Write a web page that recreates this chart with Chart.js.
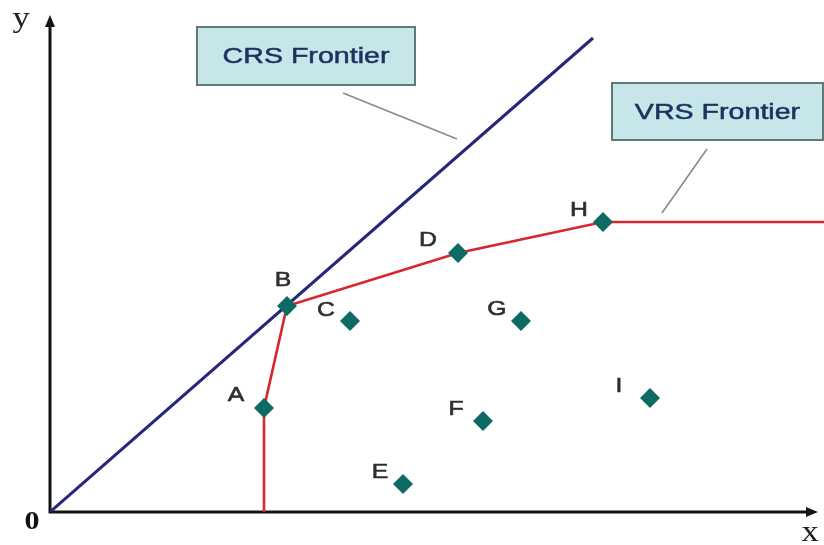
<!DOCTYPE html>
<html>
<head>
<meta charset="utf-8">
<script src="https://cdn.jsdelivr.net/npm/chart.js@4.4.1/dist/chart.umd.min.js"></script>
<style>
html,body{margin:0;padding:0;background:#fff;}
#wrap{width:824px;height:545px;}
</style>
</head>
<body>
<div id="wrap"><canvas id="c" width="824" height="545"></canvas></div>
<script>
// ---- data (units; origin at O) ----
const unitLabels = ['A','B','C','D','E','F','G','H','I'];
const unitX = [214, 237, 300, 408, 353, 433, 471, 553, 600];
const unitY = [104, 206, 191, 259, 28, 91, 191, 290, 114];
const crsX = [0, 543];
const crsY = [0, 474];
const vrsX = [214, 214, 237, 408, 553, 774];
const vrsY = [0, 104, 206, 259, 290, 290];
const xAxisMax = 774;
const yAxisMax = 512;

const pts = (xs, ys) => xs.map((x, i) => ({x, y: ys[i]}));

// label offsets (pixels) relative to each diamond
const labelOffsets = {A:[-28,-13],B:[-4,-26],C:[-24,-11],D:[-30,-13],E:[-23,-12],F:[-27,-12],G:[-24,-12],H:[-24,-12],I:[-31,-12]};

function stretchedText(ctx, txt, x, y, sx, font, color, align, thick){
  ctx.save();
  ctx.font = font;
  ctx.fillStyle = color;
  ctx.strokeStyle = color;
  ctx.textAlign = align || 'center';
  ctx.textBaseline = 'middle';
  ctx.translate(x, y);
  ctx.scale(sx, 1);
  ctx.fillText(txt, 0, 0);
  if (thick) { ctx.lineWidth = thick; ctx.strokeText(txt, 0, 0); }
  ctx.restore();
}

const axesPlugin = {
  id: 'axesPlugin',
  beforeDatasetsDraw(chart){
    const {ctx, scales:{x, y}} = chart;
    const ox = x.getPixelForValue(0), oy = y.getPixelForValue(0);
    const yTop = y.getPixelForValue(497);
    const xEnd = x.getPixelForValue(768);
    ctx.save();
    ctx.strokeStyle = '#141414';
    ctx.fillStyle = '#141414';
    ctx.lineWidth = 3;
    ctx.beginPath();
    ctx.moveTo(ox, oy + 1.5); ctx.lineTo(ox, yTop + 8);
    ctx.moveTo(ox - 1.5, oy); ctx.lineTo(xEnd - 8, oy);
    ctx.stroke();
    ctx.beginPath();
    ctx.moveTo(ox, yTop); ctx.lineTo(ox - 5, yTop + 12); ctx.lineTo(ox + 5, yTop + 12); ctx.closePath();
    ctx.fill();
    ctx.beginPath();
    ctx.moveTo(xEnd, oy); ctx.lineTo(xEnd - 12, oy - 5); ctx.lineTo(xEnd - 12, oy + 5); ctx.closePath();
    ctx.fill();
    ctx.restore();

    // axis letters
    stretchedText(ctx, 'y', ox - 29, yTop + 4, 1.15, '30px "Liberation Serif", serif', '#222');
    stretchedText(ctx, 'x', xEnd - 8, oy + 21, 1.15, '30px "Liberation Serif", serif', '#222');
    stretchedText(ctx, '0', ox - 18, oy + 11, 1.2, 'bold 25px "Liberation Serif", serif', '#111');

    // annotation pointer lines
    ctx.save();
    ctx.strokeStyle = '#8a8a8a';
    ctx.lineWidth = 1.6;
    ctx.beginPath();
    ctx.moveTo(x.getPixelForValue(293), y.getPixelForValue(419));
    ctx.lineTo(x.getPixelForValue(407), y.getPixelForValue(373));
    ctx.moveTo(x.getPixelForValue(657), y.getPixelForValue(363));
    ctx.lineTo(x.getPixelForValue(612), y.getPixelForValue(299));
    ctx.stroke();
    ctx.restore();
  },
  afterDatasetsDraw(chart){
    const {ctx, scales:{x, y}} = chart;
    // point labels
    const meta = chart.getDatasetMeta(2);
    meta.data.forEach((el, i) => {
      const lab = unitLabels[i];
      const off = labelOffsets[lab];
      stretchedText(ctx, lab, el.x + off[0], el.y + off[1], 1.18, '21px "Liberation Sans", Arial, sans-serif', '#2e2e2e', 'center', 0.6);
    });
    // annotation boxes
    const boxes = [
      {text:'CRS Frontier', x0:147, x1:365, y0:485, y1:427},
      {text:'VRS Frontier', x0:562, x1:773, y0:429, y1:372}
    ];
    boxes.forEach(b => {
      const l = x.getPixelForValue(b.x0), r = x.getPixelForValue(b.x1);
      const t = y.getPixelForValue(b.y0), bt = y.getPixelForValue(b.y1);
      ctx.save();
      ctx.fillStyle = '#c6e6e9';
      ctx.fillRect(l, t, r - l, bt - t);
      ctx.strokeStyle = '#5f7878';
      ctx.lineWidth = 2;
      ctx.strokeRect(l, t, r - l, bt - t);
      ctx.restore();
      stretchedText(ctx, b.text, (l + r) / 2, (t + bt) / 2 + 1, 1.3, '22px "Liberation Sans", Arial, sans-serif', '#1c3360', 'center', 0.5);
    });
  }
};

new Chart(document.getElementById('c'), {
  type: 'scatter',
  data: {
    datasets: [
      {
        label: 'CRS Frontier',
        data: pts(crsX, crsY),
        showLine: true,
        borderColor: '#26267a',
        borderWidth: 3,
        pointRadius: 0,
        order: 2
      },
      {
        label: 'VRS Frontier',
        data: pts(vrsX, vrsY),
        showLine: true,
        borderColor: '#d8262e',
        borderWidth: 2.6,
        pointRadius: 0,
        tension: 0,
        order: 1
      },
      {
        label: 'DMUs',
        data: pts(unitX, unitY),
        pointStyle: 'rectRot',
        pointRadius: 10,
        pointHoverRadius: 10,
        backgroundColor: '#0d6b63',
        borderColor: '#0d6b63',
        borderWidth: 0,
        order: 0
      }
    ]
  },
  options: {
    responsive: false,
    animation: false,
    events: [],
    layout: {autoPadding: false, padding: {left: 50, right: 0, top: 0, bottom: 33}},
    plugins: {legend: {display: false}, tooltip: {enabled: false}},
    scales: {
      x: {type: 'linear', min: 0, max: xAxisMax, display: false},
      y: {type: 'linear', min: 0, max: yAxisMax, display: false}
    }
  },
  plugins: [axesPlugin]
});
</script>
</body>
</html>
